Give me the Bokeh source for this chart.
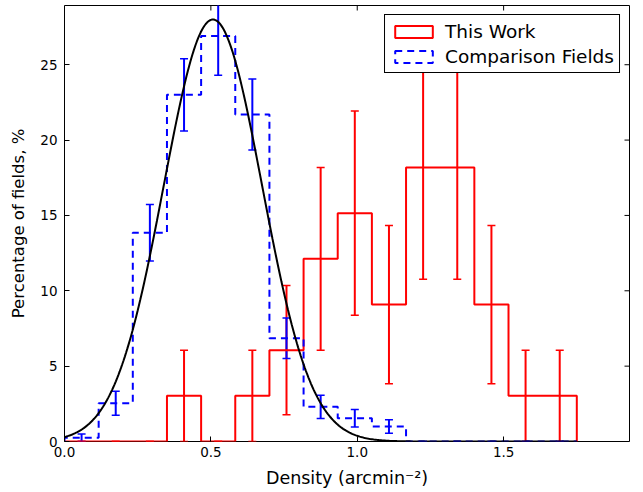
import numpy as np
from bokeh.plotting import figure
from bokeh.models import (ColumnDataSource, Whisker, TeeHead, FixedTicker,
                          PrintfTickFormatter, Range1d, Legend, LegendItem)
from bokeh.embed import file_html
from bokeh.resources import INLINE

# ---------------- data ----------------
bin_edges = [0.0, 0.1167, 0.2333, 0.35, 0.4667, 0.5833, 0.70, 0.8167, 0.9333,
             1.05, 1.1667, 1.2833, 1.40, 1.5167, 1.6333, 1.75]
this_work_pct = [0, 0, 0, 3.03, 0, 3.03, 6.06, 12.12, 15.15, 9.09, 18.18, 18.18, 9.09, 3.03, 3.03]
this_work_err = [0, 0, 0, 3.03, 0, 3.03, 4.29, 6.06, 6.78, 5.25, 7.42, 7.42, 5.25, 3.03, 3.03]
comparison_pct = [0.25, 2.54, 13.85, 23.0, 26.9, 21.7, 6.85, 2.3, 1.55, 1.0, 0, 0, 0, 0, 0]
comparison_err = [0.25, 0.8, 1.88, 2.4, 2.6, 2.35, 1.35, 0.77, 0.58, 0.45, 0, 0, 0, 0, 0]
gauss_amplitude = 28.0
gauss_mean = 0.507
gauss_sigma = 0.168
x_ticks = [0.0, 0.5, 1.0, 1.5]
y_ticks = [0, 5, 10, 15, 20, 25]
x_range = (0.0, 1.93)
y_range = (0.0, 28.93)

FONT = "DejaVu Sans"


def outline(edges, vals):
    xs, ys = [edges[0]], [0.0]
    for i, v in enumerate(vals):
        xs += [edges[i], edges[i + 1]]
        ys += [v, v]
    xs.append(edges[-1])
    ys.append(0.0)
    return xs, ys


centers = [(bin_edges[i] + bin_edges[i + 1]) / 2 for i in range(len(bin_edges) - 1)]

p = figure(frame_width=565, frame_height=436, output_backend="svg", toolbar_location=None,
           x_range=Range1d(*x_range), y_range=Range1d(*y_range),
           min_border_left=64, min_border_right=14, min_border_top=5, min_border_bottom=51)
p.background_fill_color = "white"
p.border_fill_color = "white"
p.outline_line_color = "black"
p.outline_line_width = 1
p.xgrid.visible = False
p.ygrid.visible = False

# histograms
rx, ry = outline(bin_edges, this_work_pct)
p.line(rx, ry, line_color="#ff0000", line_width=2)
bx, by = outline(bin_edges, comparison_pct)
p.line(bx, by, line_color="#0000ff", line_width=2, line_dash="7 5")

# gaussian fit
gx = np.linspace(0, 1.75, 400)
gy = gauss_amplitude * np.exp(-(gx - gauss_mean) ** 2 / (2 * gauss_sigma ** 2))
p.line(gx, gy, line_color="black", line_width=2)

# error bars
def add_err(vals, errs, color):
    src = ColumnDataSource(dict(x=centers,
                                upper=[v + e for v, e in zip(vals, errs)],
                                lower=[v - e for v, e in zip(vals, errs)]))
    w = Whisker(source=src, base="x", upper="upper", lower="lower",
                line_color=color, line_width=2,
                upper_head=TeeHead(size=8, line_color=color, line_width=1.5),
                lower_head=TeeHead(size=8, line_color=color, line_width=1.5))
    p.add_layout(w)

add_err(this_work_pct, this_work_err, "#ff0000")
add_err(comparison_pct, comparison_err, "#0000ff")

# inward ticks on the top and right edges (no labels)
p.ray(x=x_ticks, y=[y_range[1]] * len(x_ticks), length=5, length_units="screen",
      angle=-np.pi / 2, line_color="black", line_width=1)
p.ray(x=[x_range[1]] * len(y_ticks), y=y_ticks, length=5, length_units="screen",
      angle=np.pi, line_color="black", line_width=1)

# legend proxies (not drawn in the plot area: NaN coordinates)
nan = [float("nan")]
lr = p.quad(left=nan, right=nan, top=nan, bottom=nan, fill_color=None,
            line_color="#ff0000", line_width=2)
lb = p.quad(left=nan, right=nan, top=nan, bottom=nan, fill_color=None,
            line_color="#0000ff", line_width=2, line_dash="7 5")
legend = Legend(items=[LegendItem(label="This Work", renderers=[lr]),
                       LegendItem(label="Comparison Fields", renderers=[lb])],
                location="top_right", margin=9, padding=5, spacing=3,
                glyph_width=47, glyph_height=15, label_height=22, label_standoff=8,
                label_text_font=FONT, label_text_font_size="18.5px", label_text_color="black",
                border_line_color="black", border_line_width=1, border_line_alpha=1,
                background_fill_color="white", background_fill_alpha=1)
p.add_layout(legend)

# axes styling
xaxis = p.xaxis[0]
yaxis = p.yaxis[0]
xaxis.ticker = FixedTicker(ticks=x_ticks)
xaxis.formatter = PrintfTickFormatter(format="%.1f")
yaxis.ticker = FixedTicker(ticks=y_ticks)
yaxis.formatter = PrintfTickFormatter(format="%d")
xaxis.axis_label = "Density (arcmin\u207b\u00b2)"
yaxis.axis_label = "Percentage of fields, %"
for ax in (xaxis, yaxis):
    ax.axis_line_color = None
    ax.major_tick_in = 5
    ax.major_tick_out = 0
    ax.major_tick_line_color = "black"
    ax.minor_tick_line_color = None
    ax.major_label_text_font = FONT
    ax.major_label_text_font_size = "13.5px"
    ax.major_label_text_color = "black"
    ax.axis_label_text_font = FONT
    ax.axis_label_text_font_style = "normal"
    ax.axis_label_text_color = "black"
xaxis.axis_label_text_font_size = "17.5px"
yaxis.axis_label_text_font_size = "16.5px"
xaxis.major_label_standoff = 5
xaxis.axis_label_standoff = 8
yaxis.major_label_standoff = 7
yaxis.axis_label_standoff = 9

open("out.html", "w").write(file_html(p, INLINE))
